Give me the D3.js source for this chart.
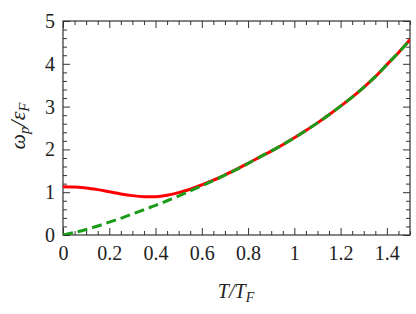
<!DOCTYPE html>
<html>
<head>
<meta charset="utf-8">
<script src="https://cdn.jsdelivr.net/npm/d3@7"></script>
<style>
  body { margin: 0; background: #fff; }
  svg text { font-family: "Liberation Serif", "DejaVu Serif", serif; fill: #222; }
</style>
</head>
<body>
<div id="chart"></div>
<script>
// T/T_F sample points
var tValues = [0, 0.05, 0.1, 0.15, 0.2, 0.25, 0.3, 0.35, 0.4, 0.45, 0.5, 0.55, 0.6, 0.65, 0.7, 0.75,
    0.8, 0.85, 0.9, 0.95, 1.0, 1.05, 1.1, 1.15, 1.2, 1.25, 1.3, 1.35, 1.4, 1.45, 1.5];

// full result (red, solid)
var fullValues = [1.13, 1.12, 1.10, 1.06, 1.01, 0.96, 0.92, 0.895, 0.895, 0.93, 0.99, 1.07, 1.17, 1.28, 1.405, 1.535,
    1.675, 1.82, 1.96, 2.11, 2.27, 2.44, 2.62, 2.81, 3.01, 3.22, 3.45, 3.70, 3.98, 4.26, 4.56];

// asymptotic result (green, dashed)
var asymValues = [0, 0.06, 0.13, 0.21, 0.30, 0.39, 0.49, 0.59, 0.69, 0.80, 0.91, 1.03, 1.15, 1.27, 1.40, 1.53,
    1.67, 1.82, 1.96, 2.11, 2.27, 2.44, 2.62, 2.81, 3.01, 3.22, 3.45, 3.70, 3.98, 4.26, 4.56];

var xTickValues = [0, 0.2, 0.4, 0.6, 0.8, 1, 1.2, 1.4];
var yTickValues = [0, 1, 2, 3, 4, 5];

var w = 416, h = 314;
var margin = {top: 21, right: 6, bottom: 79, left: 63};
var width = w - margin.left - margin.right,
    height = h - margin.top - margin.bottom;

var svg = d3.select("#chart").append("svg")
    .attr("width", w)
    .attr("height", h);

var g = svg.append("g")
    .attr("transform", "translate(" + margin.left + "," + margin.top + ")");

var x = d3.scaleLinear().domain([0, 1.5]).range([0, width]);
var y = d3.scaleLinear().domain([0, 5]).range([height, 0]);

var xMinor = d3.range(0, 1.5001, 0.05).map(d => +d.toFixed(2));
var yMinor = d3.range(0, 5.0001, 0.2).map(d => +d.toFixed(1));

function isMajor(list, v) { return list.some(t => Math.abs(t - v) < 1e-6); }

// frame ticks (inward, all four sides)
function tickAxis(axisFn, scale, minor, major, transform, labels) {
    var ax = axisFn(scale)
        .tickValues(minor)
        .tickSizeOuter(0)
        .tickPadding(labels ? 5 : 0)
        .tickFormat(d => (labels && isMajor(major, d)) ? d3.format("")(d) : "");
    var sel = g.append("g").attr("transform", transform).call(ax);
    sel.attr("font-size", null).attr("font-family", null);
    sel.select(".domain").remove();
    sel.selectAll(".tick line")
        .attr("stroke", "#333")
        .attr("stroke-width", 1);
    return sel;
}

var axBottom = tickAxis(d3.axisBottom, x, xMinor, xTickValues, "translate(0," + height + ")", true);
axBottom.selectAll(".tick line").attr("y2", d => isMajor(xTickValues, d) ? -7 : -4);
axBottom.selectAll(".tick text").attr("y", 25).attr("dy", null).style("font-size", "20px");

var axTop = tickAxis(d3.axisTop, x, xMinor, xTickValues, "translate(0,0)", false);
axTop.selectAll(".tick line").attr("y2", d => isMajor(xTickValues, d) ? 7 : 4);

var axLeft = tickAxis(d3.axisLeft, y, yMinor, yTickValues, "translate(0,0)", true);
axLeft.selectAll(".tick line").attr("x2", d => isMajor(yTickValues, d) ? 7 : 4);
axLeft.selectAll(".tick text").attr("x", -8).style("font-size", "20px");

var axRight = tickAxis(d3.axisRight, y, yMinor, yTickValues, "translate(" + width + ",0)", false);
axRight.selectAll(".tick line").attr("x2", d => isMajor(yTickValues, d) ? -7 : -4);

g.selectAll(".tick text").attr("fill", "#222");

g.append("rect")
    .attr("width", width)
    .attr("height", height)
    .attr("fill", "none")
    .attr("stroke", "#333")
    .attr("stroke-width", 1.2);

svg.append("clipPath").attr("id", "clip")
    .append("rect").attr("width", width).attr("height", height);

var line_gen = d3.line()
    .x((d, i) => x(tValues[i]))
    .y(d => y(d))
    .curve(d3.curveCatmullRom);

var lines_g = g.append("g").attr("clip-path", "url(#clip)");

lines_g.append("path")
    .attr("d", line_gen(fullValues))
    .attr("fill", "none")
    .attr("stroke", "#ff0000")
    .attr("stroke-width", 3);

lines_g.append("path")
    .attr("d", line_gen(asymValues))
    .attr("fill", "none")
    .attr("stroke", "#1a9c1a")
    .attr("stroke-width", 3)
    .attr("stroke-dasharray", "10,5");

// axis labels
svg.append("text")
    .attr("x", 236)
    .attr("y", 298)
    .attr("text-anchor", "middle")
    .style("font-size", "20px")
    .style("font-style", "italic")
    .html('T/T<tspan dy="4" font-size="14px">F</tspan>');

svg.append("text")
    .attr("transform", "translate(25,126) rotate(-90)")
    .attr("text-anchor", "middle")
    .style("font-size", "22px")
    .style("font-style", "italic")
    .html('ω<tspan dy="4" font-size="15px">p</tspan><tspan dy="-4">/ε</tspan><tspan dy="4" font-size="15px">F</tspan>');
</script>
</body>
</html>
